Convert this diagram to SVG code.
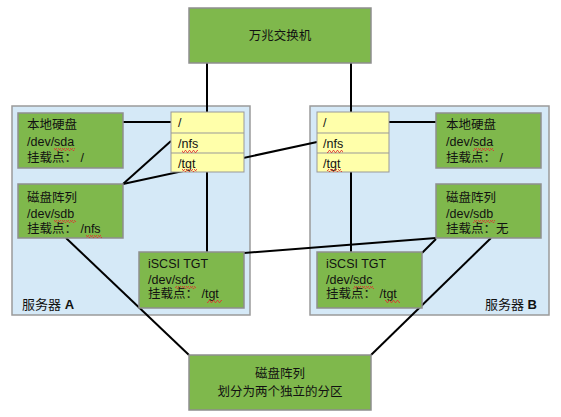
<svg xmlns="http://www.w3.org/2000/svg" width="561" height="417" viewBox="0 0 561 417">
<defs>
<style>
text{font-family:"Liberation Sans","Noto Sans CJK SC",sans-serif;font-size:12.5px;fill:#111;white-space:pre}
.panel{fill:#d5e9f7;stroke:#9a9a9a;stroke-width:1.5}
.g{fill:#7fb84c;stroke:#8e8e8e;stroke-width:1.5}
.y{fill:#ffffaa;stroke:#999;stroke-width:1}
.c{stroke:#000;stroke-width:2;fill:none}
.sq{fill:url(#wave)}
.lab{font-size:13px}
</style>
<pattern id="wave" patternUnits="userSpaceOnUse" width="4" height="3">
<path d="M0 2.5 L1 0.5 L2 0.5 L3 2.5 L4 2.5" stroke="#e03030" stroke-width="0.8" fill="none"/>
</pattern>
</defs>
<rect id="panelA" class="panel" x="12" y="106" width="238" height="209"/>
<rect id="panelB" class="panel" x="310" y="106" width="239" height="209"/>
<g id="connectors">
<line class="c" x1="207" y1="63" x2="207" y2="112"/>
<line class="c" x1="351" y1="63" x2="351" y2="112"/>
<line class="c" x1="123" y1="122" x2="171" y2="122"/>
<line class="c" x1="123" y1="184" x2="171" y2="141"/>
<line class="c" x1="123" y1="184" x2="317" y2="142"/>
<line class="c" x1="207" y1="172" x2="207" y2="252"/>
<line class="c" x1="244" y1="253" x2="436" y2="238"/>
<line class="c" x1="66" y1="238" x2="189" y2="355"/>
<line class="c" x1="389" y1="122" x2="436" y2="122"/>
<line class="c" x1="351" y1="172" x2="351" y2="252"/>
<line class="c" x1="436" y1="239" x2="422" y2="253"/>
<line class="c" x1="491" y1="238" x2="371" y2="355"/>
</g>
<g id="switch">
<rect class="g" x="189" y="8" width="182" height="55"/>
<text x="280" y="40" text-anchor="middle">万兆交换机</text>
</g>
<g id="serverA">
<text class="lab" x="22" y="309">服务器 <tspan font-weight="bold">A</tspan></text>
</g>
<g id="serverB">
<text class="lab" x="537" y="309" text-anchor="end">服务器 <tspan font-weight="bold">B</tspan></text>
</g>
<g id="diskA_local">
<rect class="g" x="18" y="113" width="105" height="55"/>
<text x="27" y="129">本地硬盘</text>
<text x="27" y="145.5">/dev/sda</text>
<rect class="sq" x="54" y="148" width="21" height="3"/>
<text x="27" y="162">挂载点： /</text>
</g>
<g id="diskA_array">
<rect class="g" x="18" y="184" width="105" height="54"/>
<text x="27" y="201.5">磁盘阵列</text>
<text x="27" y="217.5">/dev/sdb</text>
<rect class="sq" x="54" y="220" width="22" height="3"/>
<text x="27" y="233">挂载点： /nfs</text>
<rect class="sq" x="86" y="235" width="16" height="3"/>
</g>
<g id="mountA">
<rect class="y" x="171" y="112" width="73" height="60"/>
<line x1="171" y1="133" x2="244" y2="133" stroke="#999" stroke-width="1"/>
<line x1="171" y1="153" x2="244" y2="153" stroke="#999" stroke-width="1"/>
<text x="178" y="127">/</text>
<text x="178" y="147.5">/nfs</text>
<rect class="sq" x="182" y="150" width="16" height="3"/>
<text x="178" y="167.5">/tgt</text>
<rect class="sq" x="182" y="169" width="15" height="3"/>
</g>
<g id="iscsiA">
<rect class="g" x="139" y="252" width="105" height="56"/>
<text x="148" y="268">iSCSI TGT</text>
<text x="148" y="283.5">/dev/sdc</text>
<rect class="sq" x="175" y="286" width="21" height="3"/>
<text x="148" y="298">挂载点： /tgt</text>
<rect class="sq" x="207" y="300" width="15" height="3"/>
</g>
<g id="mountB">
<rect class="y" x="317" y="112" width="72" height="60"/>
<line x1="317" y1="133" x2="389" y2="133" stroke="#999" stroke-width="1"/>
<line x1="317" y1="153" x2="389" y2="153" stroke="#999" stroke-width="1"/>
<text x="323" y="127">/</text>
<text x="323" y="147.5">/nfs</text>
<rect class="sq" x="327" y="150" width="16" height="3"/>
<text x="323" y="167.5">/tgt</text>
<rect class="sq" x="327" y="169" width="15" height="3"/>
</g>
<g id="diskB_local">
<rect class="g" x="436" y="113" width="105" height="55"/>
<text x="446" y="129">本地硬盘</text>
<text x="446" y="145.5">/dev/sda</text>
<rect class="sq" x="473" y="148" width="21" height="3"/>
<text x="446" y="162">挂载点： /</text>
</g>
<g id="diskB_array">
<rect class="g" x="436" y="184" width="105" height="54"/>
<text x="446" y="201.5">磁盘阵列</text>
<text x="446" y="217.5">/dev/sdb</text>
<rect class="sq" x="473" y="220" width="22" height="3"/>
<text x="446" y="233">挂载点：无</text>
</g>
<g id="iscsiB">
<rect class="g" x="317" y="252" width="105" height="56"/>
<text x="326" y="268">iSCSI TGT</text>
<text x="326" y="283.5">/dev/sdc</text>
<rect class="sq" x="353" y="286" width="21" height="3"/>
<text x="326" y="298">挂载点： /tgt</text>
<rect class="sq" x="385" y="300" width="15" height="3"/>
</g>
<g id="storage">
<rect class="g" x="189" y="355" width="182" height="55"/>
<text x="280" y="377.5" text-anchor="middle">磁盘阵列</text>
<text x="280" y="395.5" text-anchor="middle">划分为两个独立的分区</text>
</g>
</svg>
